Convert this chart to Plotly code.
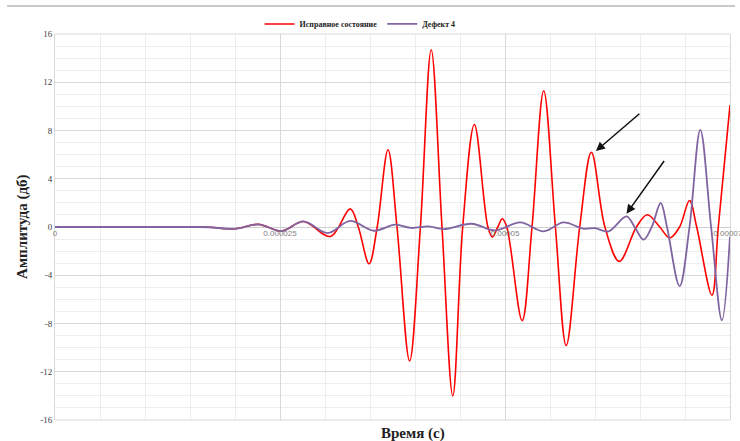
import plotly.graph_objects as go

# Time points (microseconds) and amplitude (dB) for the healthy state
t_ok_us = [0, 10.0, 15.5, 17.2, 20.0, 22.6, 25.2, 27.6, 30.6, 32.8, 33.7, 34.9, 35.8, 37.0, 38.0,
           39.4, 40.6, 41.8, 43.0, 44.2, 45.3, 46.6, 48.1, 48.6, 49.2, 49.7, 50.2,
           51.9, 53.0, 54.3, 55.6, 56.8, 58.3, 59.6, 61.1, 62.7, 64.6, 65.8, 67.2,
           68.3, 69.4, 70.5, 71.3, 73.0, 73.7, 75.0]
amp_ok = [0, 0, 0, -0.02, -0.15, 0.22, -0.33, 0.46, -0.78, 1.5, 0, -3.05, 0, 6.4, 0,
          -11.1, 0, 14.7, 0, -14.0, 0, 8.5, 0, -0.83, 0, 0.69, 0,
          -7.76, 0, 11.3, 0, -9.83, 0, 6.2, 0, -2.85, 0, 1.02, 0,
          -0.91, 0, 2.2, 0, -5.66, 0, 10.1]

# Time points (microseconds) and amplitude (dB) for defect 4
t_def_us = [0, 10.0, 15.5, 17.2, 20.0, 22.6, 25.2, 27.6, 30.3, 32.8, 35.4, 37.8, 39.6, 41.5,
            43.2, 46.3, 48.9, 51.7, 54.3, 56.5, 58.7, 60.0, 61.5, 63.5, 64.4, 65.4,
            66.3, 67.3, 68.0, 69.4, 70.5, 71.7, 72.9, 74.1, 75.0]
amp_def = [0, 0, 0, -0.02, -0.15, 0.22, -0.33, 0.46, -0.5, 0.5, -0.31, 0.19, -0.08, 0.05,
           -0.17, 0.27, -0.28, 0.38, -0.36, 0.38, -0.14, -0.1, -0.36, 0.88, 0, -1.05,
           0, 1.99, 0, -4.9, 0, 8.05, 0, -7.73, -0.78]

series_names = ["Исправное состояние", "Дефект 4"]
x_tick_vals = [0, 0.000025, 0.00005, 0.000075]
x_tick_text = ["0", "0.000025", "0.00005", "0.000075"]
y_tick_vals = [-16, -12, -8, -4, 0, 4, 8, 12, 16]
y_tick_text = ["-16", "-12", "-8", "-4", "0", "4", "8", "12", "16"]

grid_major = "#D9D9D9"
grid_minor = "#EDEDED"
serif = "Liberation Serif"

fig = go.Figure()
fig.add_trace(go.Scatter(
    x=[v * 1e-6 for v in t_ok_us], y=amp_ok, name=series_names[0], mode="lines",
    line=dict(color="#FF0000", width=1.6, shape="spline", smoothing=1.0),
))
fig.add_trace(go.Scatter(
    x=[v * 1e-6 for v in t_def_us], y=amp_def, name=series_names[1], mode="lines",
    line=dict(color="#8064A2", width=1.8, shape="spline", smoothing=1.0),
))

fig.update_layout(
    width=740, height=441,
    margin=dict(l=55, r=10, t=34, b=21, autoexpand=False),
    paper_bgcolor="white", plot_bgcolor="white",
    showlegend=True,
    legend=dict(orientation="h", x=0.452, xanchor="center", y=1.026, yanchor="middle",
                font=dict(family=serif, size=8, color="#222222", weight="bold"),
                itemwidth=30, tracegroupgap=0, bgcolor="rgba(0,0,0,0)"),
    xaxis=dict(
        range=[0, 0.000075], anchor="free", position=0.5,
        tickvals=x_tick_vals, ticktext=x_tick_text, ticks="",
        ticklabeloverflow="allow",
        tickfont=dict(family="Liberation Sans", size=8, color="#7F7F7F"),
        showgrid=True, gridcolor=grid_major, gridwidth=1,
        minor=dict(dtick=0.000005, tick0=0, showgrid=True, gridcolor=grid_minor, gridwidth=1),
        showline=False, zeroline=False,
    ),
    yaxis=dict(
        range=[-16, 16], tickvals=y_tick_vals, ticktext=y_tick_text, ticks="",
        tickfont=dict(family=serif, size=9, color="#404040"),
        showgrid=True, gridcolor=grid_major, gridwidth=1,
        minor=dict(dtick=1, tick0=0, showgrid=True, gridcolor=grid_minor, gridwidth=1),
        zeroline=True, zerolinecolor="#CFCFCF", zerolinewidth=1,
        showline=True, mirror=True, linecolor=grid_major, linewidth=1,
    ),
)

# Frame line along the top of the chart area (drawn in pixels from the top edge)
fig.add_shape(type="line", xref="paper", yref="paper", x0=-0.071, x1=1.0074,
              y0=1.0, y1=1.0, ysizemode="pixel", yanchor=1.0,
              line=dict(color="#C8C8C8", width=2), layer="above")
fig.update_shapes(selector=dict(ysizemode="pixel"), y0=28, y1=28)
# Bottom and top edges of the plotting area
fig.add_shape(type="line", xref="paper", yref="paper", x0=0, x1=1, y0=0, y1=0,
              line=dict(color=grid_major, width=1))
fig.add_shape(type="line", xref="paper", yref="paper", x0=0, x1=1, y0=1, y1=1,
              line=dict(color=grid_major, width=1))

# Axis titles
fig.add_annotation(text="Время (с)", xref="paper", yref="paper", x=0.53, y=-0.035,
                   xanchor="center", yanchor="middle", showarrow=False,
                   font=dict(family=serif, size=15, color="#222222", weight="bold"))
fig.add_annotation(text="Амплитуда (дб)", xref="paper", yref="paper", x=-0.049, y=0.5,
                   xanchor="center", yanchor="middle", showarrow=False, textangle=-90,
                   font=dict(family=serif, size=15, color="#222222", weight="bold"))

# Arrows pointing at the highlighted peaks
fig.add_annotation(x=60.1e-6, y=6.3, ax=65.1e-6, ay=9.5, xref="x", yref="y",
                   axref="x", ayref="y", text="", showarrow=True,
                   arrowhead=2, arrowsize=1.2, arrowwidth=1.5, arrowcolor="#111111")
fig.add_annotation(x=63.5e-6, y=1.1, ax=67.8e-6, ay=5.6, xref="x", yref="y",
                   axref="x", ayref="y", text="", showarrow=True,
                   arrowhead=2, arrowsize=1.2, arrowwidth=1.5, arrowcolor="#111111")

fig.write_html("out.html")
